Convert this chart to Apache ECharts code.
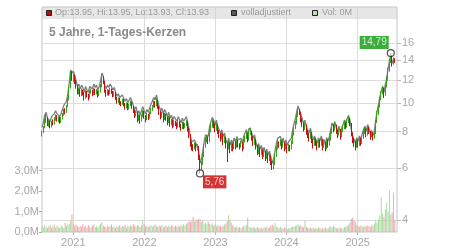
<!DOCTYPE html>
<html><head><meta charset="utf-8">
<script src="https://cdn.jsdelivr.net/npm/echarts@6/dist/echarts.min.js"></script>
<style>html,body{margin:0;padding:0;background:#fff}#c{width:450px;height:250px}</style>
</head><body><div id="c"></div>
<script>
// ---- data (weekly candles) ----
const startDate = [2020, 6, 24];   // first candle (year, monthIndex, day)
const stepDays = 7;
const opens = [
7.75,7.95,8.25,8.70,8.85,8.45,8.60,8.35,8.65,8.50,
8.75,9.00,8.75,8.95,8.60,8.85,9.10,9.45,9.30,9.75,
10.30,11.30,12.50,12.00,12.30,11.90,11.40,10.85,11.10,10.70,
11.00,10.80,10.45,10.90,10.60,10.40,10.85,11.00,10.70,11.10,
10.80,11.00,10.60,10.90,11.40,12.10,11.80,11.00,10.70,11.00,
10.80,11.10,10.90,10.60,10.80,10.40,10.10,10.30,10.00,9.90,
10.20,9.90,9.70,9.90,9.60,9.80,10.00,9.70,9.40,9.10,
9.30,8.80,9.00,8.70,9.00,9.30,9.00,8.80,9.10,8.90,
9.20,9.50,9.70,10.00,9.80,10.20,9.70,9.30,9.00,9.20,
8.80,9.10,8.90,8.60,8.90,8.50,8.70,8.40,8.60,8.50,
8.30,8.60,8.40,8.20,8.50,8.30,8.40,8.60,8.20,7.80,
7.30,7.10,7.00,7.20,7.00,7.10,6.60,6.00,6.20,6.60,
7.10,7.50,7.60,7.40,8.00,8.30,8.60,8.40,8.10,8.40,
8.00,7.80,7.60,7.80,7.40,7.60,7.20,7.00,7.30,6.90,
7.20,7.00,7.30,7.10,7.40,7.20,7.10,7.30,7.00,7.40,
7.60,7.80,7.50,7.90,8.00,7.60,7.30,7.50,7.10,6.80,
7.00,6.70,6.90,6.60,6.80,6.50,6.70,6.40,6.60,6.30,
6.00,6.20,6.60,7.00,7.30,7.20,7.40,7.10,7.30,7.00,
7.20,6.90,7.10,7.00,7.30,7.80,8.20,8.50,9.00,9.40,
9.30,8.80,8.50,8.20,8.40,8.00,7.80,7.60,7.90,7.50,
7.20,7.50,7.30,7.10,7.40,7.20,7.50,7.10,7.30,7.00,
7.40,7.20,7.50,7.90,8.30,8.10,8.40,8.00,7.80,8.10,
7.70,8.00,8.20,8.50,8.30,8.60,8.80,8.50,7.90,7.50,
7.30,7.10,7.40,7.20,7.50,7.30,7.60,7.90,8.10,7.80,
8.20,8.00,7.70,7.90,7.60,7.90,8.60,9.20,9.70,10.30,
10.80,11.20,10.70,11.40,12.00,12.90,13.80,14.50,13.60,14.05];
const closes = [
7.90,8.20,8.70,8.90,8.50,8.60,8.30,8.60,8.50,8.80,
9.00,8.80,8.90,8.60,8.80,9.10,9.40,9.30,9.70,10.30,
11.20,12.40,12.10,12.30,11.90,11.40,10.90,11.10,10.70,11.00,
10.80,10.40,10.90,10.60,10.40,10.90,11.00,10.70,11.10,10.80,
11.00,10.60,10.90,11.40,12.10,11.80,11.00,10.70,11.00,10.80,
11.10,10.90,10.60,10.80,10.40,10.10,10.30,10.00,9.90,10.20,
9.90,9.70,9.90,9.60,9.80,10.00,9.70,9.40,9.10,9.30,
8.80,9.00,8.70,9.00,9.30,9.00,8.80,9.10,8.90,9.20,
9.50,9.70,10.00,9.80,10.20,9.70,9.30,9.00,9.20,8.80,
9.10,8.90,8.60,8.90,8.50,8.70,8.40,8.60,8.50,8.30,
8.60,8.40,8.20,8.50,8.30,8.40,8.60,8.20,7.80,7.30,
7.10,7.00,7.20,7.00,7.10,6.60,6.00,6.20,6.60,7.10,
7.50,7.60,7.40,8.00,8.30,8.60,8.40,8.10,8.40,8.00,
7.80,7.60,7.80,7.40,7.60,7.20,7.00,7.30,6.90,7.20,
7.00,7.30,7.10,7.40,7.20,7.10,7.30,7.00,7.40,7.60,
7.80,7.50,7.90,8.00,7.60,7.30,7.50,7.10,6.80,7.00,
6.70,6.90,6.60,6.80,6.50,6.70,6.40,6.60,6.30,6.00,
6.20,6.60,7.00,7.30,7.20,7.40,7.10,7.30,7.00,7.20,
6.90,7.10,7.00,7.30,7.80,8.20,8.50,9.00,9.40,9.30,
8.80,8.50,8.20,8.40,8.00,7.80,7.60,7.90,7.50,7.20,
7.50,7.30,7.10,7.40,7.20,7.50,7.10,7.30,7.00,7.40,
7.20,7.50,7.90,8.30,8.10,8.40,8.00,7.80,8.10,7.70,
8.00,8.20,8.50,8.30,8.60,8.80,8.50,7.90,7.50,7.30,
7.10,7.40,7.20,7.50,7.30,7.60,7.90,8.10,7.80,8.20,
8.00,7.70,7.90,7.60,7.90,8.60,9.20,9.70,10.30,10.80,
11.20,10.70,11.40,12.00,12.90,13.80,14.50,13.60,14.00,13.93];
const highs = [
8.05,8.35,8.90,9.15,8.95,8.75,8.70,8.70,8.80,8.95,
9.15,9.10,9.00,9.00,8.95,9.25,9.55,9.60,9.85,10.45,
11.40,12.80,12.85,12.60,12.45,12.00,11.50,11.30,11.20,11.20,
11.10,10.90,11.05,11.00,10.75,11.05,11.20,11.10,11.25,11.20,
11.15,11.05,11.05,11.60,12.40,12.30,11.90,11.10,11.15,11.10,
11.25,11.20,11.00,10.95,10.90,10.50,10.45,10.40,10.15,10.35,
10.30,10.00,10.05,10.00,9.95,10.20,10.10,9.80,9.50,9.45,
9.35,9.15,9.10,9.15,9.45,9.40,9.10,9.25,9.20,9.35,
9.65,9.85,10.20,10.15,10.40,10.25,9.80,9.40,9.35,9.25,
9.25,9.20,9.00,9.05,8.95,8.85,8.80,8.75,8.70,8.60,
8.75,8.70,8.50,8.65,8.60,8.55,8.75,8.65,8.25,7.85,
7.40,7.25,7.35,7.30,7.25,7.15,6.65,6.35,6.75,7.25,
7.65,7.80,7.70,8.15,8.50,8.80,8.70,8.50,8.55,8.45,
8.10,7.90,7.95,7.85,7.75,7.65,7.30,7.45,7.35,7.35,
7.30,7.45,7.40,7.55,7.50,7.30,7.45,7.35,7.55,7.75,
8.00,7.90,8.05,8.25,8.05,7.70,7.65,7.55,7.20,7.15,
7.05,7.05,6.95,6.95,6.85,6.85,6.75,6.75,6.65,6.35,
6.35,6.75,7.15,7.50,7.40,7.55,7.45,7.45,7.35,7.35,
7.25,7.25,7.20,7.45,7.95,8.35,8.70,9.20,9.60,9.55,
9.35,8.90,8.60,8.55,8.45,8.10,7.90,8.05,7.95,7.55,
7.65,7.60,7.40,7.55,7.50,7.65,7.55,7.45,7.35,7.55,
7.50,7.65,8.05,8.50,8.45,8.60,8.45,8.10,8.25,8.15,
8.15,8.40,8.70,8.60,8.80,9.10,8.90,8.55,7.95,7.60,
7.40,7.55,7.50,7.65,7.60,7.75,8.05,8.30,8.20,8.35,
8.30,8.05,8.05,7.95,8.05,8.75,9.40,9.90,10.50,11.00,
11.45,11.30,11.60,12.30,13.20,14.10,14.79,14.60,14.30,14.20];
const lows = [
7.70,7.90,8.20,8.55,8.35,8.30,8.20,8.25,8.40,8.45,
8.70,8.65,8.60,8.50,8.55,8.80,9.05,9.15,9.25,9.70,
10.20,11.20,11.90,11.80,11.60,11.20,10.70,10.70,10.50,10.55,
10.60,10.20,10.35,10.45,10.20,10.35,10.75,10.55,10.65,10.65,
10.70,10.45,10.55,10.85,11.30,11.60,10.85,10.50,10.60,10.60,
10.70,10.75,10.45,10.50,10.25,9.95,10.00,9.85,9.75,9.85,
9.75,9.50,9.60,9.45,9.50,9.75,9.55,9.25,8.90,9.00,
8.60,8.70,8.50,8.65,8.95,8.85,8.60,8.75,8.75,8.85,
9.15,9.40,9.65,9.65,9.75,9.55,9.10,8.80,8.90,8.60,
8.75,8.70,8.40,8.55,8.30,8.40,8.20,8.30,8.35,8.15,
8.25,8.25,8.05,8.15,8.15,8.20,8.35,8.00,7.60,7.10,
6.90,6.85,6.95,6.85,6.90,6.40,5.76,5.90,6.15,6.55,
7.05,7.35,7.25,7.35,7.95,8.25,8.20,7.95,8.05,7.85,
7.60,7.40,7.50,7.20,7.30,7.00,6.30,6.95,6.75,6.85,
6.85,6.95,6.95,7.05,7.05,6.95,7.05,6.85,6.95,7.35,
7.55,7.35,7.45,7.80,7.45,7.15,7.20,6.95,6.65,6.70,
6.55,6.65,6.45,6.55,6.35,6.45,6.25,6.35,6.15,5.92,
5.95,6.15,6.55,6.95,7.05,7.15,6.95,7.05,6.85,6.95,
6.75,6.85,6.85,6.95,7.25,7.75,8.15,8.45,8.95,9.10,
8.60,8.30,8.00,8.10,7.80,7.60,7.40,7.55,7.30,7.00,
7.15,7.15,6.90,7.05,7.05,7.15,6.90,7.05,6.85,6.95,
7.05,7.15,7.45,7.85,7.95,8.05,7.85,7.60,7.75,7.50,
7.65,7.95,8.15,8.15,8.25,8.55,8.35,7.70,7.30,7.10,
6.90,7.05,7.05,7.15,7.15,7.25,7.55,7.85,7.65,7.75,
7.85,7.50,7.65,7.45,7.55,7.85,8.55,9.10,9.65,10.20,
10.70,10.40,10.60,11.30,11.90,12.80,13.70,13.30,13.50,13.70];
const adjusted = [
8.26,8.57,9.09,9.30,8.88,8.99,8.67,8.99,8.88,9.20,
9.41,9.20,9.30,8.99,9.20,9.51,9.82,9.72,10.14,10.76,
11.70,12.96,12.64,12.85,12.44,11.91,11.39,11.60,11.18,11.50,
11.29,10.87,11.39,11.08,10.87,11.39,11.50,11.18,11.60,11.29,
11.50,11.08,11.39,11.91,12.64,12.33,11.50,11.18,11.50,11.29,
11.60,11.39,11.08,11.29,10.87,10.55,10.76,10.45,10.35,10.66,
10.35,10.14,10.35,10.03,10.24,10.45,10.14,9.82,9.51,9.72,
9.20,9.41,9.09,9.41,9.72,9.41,9.20,9.51,9.30,9.61,
9.93,10.14,10.45,10.24,10.66,10.14,9.72,9.41,9.61,9.20,
9.51,9.30,8.99,9.30,8.88,9.09,8.78,8.99,8.88,8.67,
8.99,8.78,8.57,8.88,8.67,8.78,8.99,8.57,8.15,7.63,
7.38,7.28,7.49,7.28,7.38,6.86,6.24,6.45,6.86,7.38,
7.80,7.90,7.70,8.32,8.63,8.94,8.74,8.42,8.74,8.32,
8.11,7.90,8.11,7.70,7.90,7.49,7.28,7.59,7.18,7.49,
7.28,7.59,7.38,7.70,7.49,7.38,7.59,7.28,7.70,7.90,
8.11,7.80,8.22,8.32,7.90,7.59,7.80,7.38,7.07,7.28,
6.97,7.18,6.86,7.07,6.76,6.97,6.66,6.86,6.55,6.24,
6.45,6.86,7.28,7.59,7.49,7.70,7.38,7.59,7.28,7.49,
7.18,7.38,7.28,7.59,8.11,8.53,8.84,9.36,9.78,9.67,
9.15,8.84,8.53,8.74,8.32,8.11,7.90,8.22,7.80,7.49,
7.73,7.52,7.31,7.62,7.42,7.73,7.31,7.52,7.21,7.62,
7.42,7.73,8.14,8.55,8.34,8.65,8.24,8.03,8.34,7.93,
8.24,8.45,8.76,8.55,8.86,9.06,8.76,8.14,7.73,7.52,
7.31,7.62,7.42,7.73,7.52,7.83,8.14,8.34,8.03,8.45,
8.24,7.85,8.06,7.75,8.06,8.77,9.38,9.89,10.48,10.98,
11.38,10.86,11.55,12.14,13.03,13.90,14.58,13.65,14.03,13.93];
const volumesM = [
0.30,0.22,0.35,0.25,0.18,0.28,0.32,0.20,0.26,0.38,0.22,0.30,0.24,0.19,0.33,0.27,0.21,0.45,0.29,0.36,
0.40,0.55,0.85,0.42,0.30,0.35,0.28,0.22,0.31,0.26,0.38,0.24,0.29,0.20,0.34,0.27,0.23,0.30,0.36,0.25,
0.28,0.21,0.33,0.40,0.48,0.30,0.27,0.22,0.32,0.25,0.29,0.36,0.24,0.28,0.20,0.31,0.26,0.34,0.23,0.29,
0.27,0.35,0.22,0.30,0.25,0.33,0.28,0.38,0.31,0.26,0.34,0.29,0.24,0.32,0.58,0.36,0.27,0.30,0.23,0.28,
0.33,0.26,0.31,0.37,0.29,0.24,0.30,0.27,0.35,0.22,0.28,0.32,0.25,0.30,0.26,0.34,0.29,0.23,0.31,0.27,
0.30,0.25,0.33,0.28,0.36,0.31,0.40,0.45,0.52,0.48,0.55,0.75,0.50,0.62,0.58,0.65,0.60,0.48,0.55,0.42,
0.45,0.38,0.50,0.40,0.35,0.42,0.30,0.36,0.28,0.33,0.27,0.32,0.25,0.30,0.36,0.42,0.55,0.83,0.60,0.45,
0.32,0.26,0.22,0.28,0.20,0.25,0.18,0.23,0.30,0.27,0.35,0.70,0.26,0.22,0.19,0.25,0.21,0.17,0.24,0.20,
0.18,0.22,0.16,0.25,0.20,0.27,0.19,0.23,0.30,0.35,0.28,0.44,0.26,0.22,0.18,0.24,0.20,0.17,0.22,0.19,
0.15,0.20,0.17,0.23,0.28,0.25,0.30,0.33,0.36,0.28,0.32,0.26,0.22,0.58,0.25,0.20,0.18,0.23,0.17,0.21,
0.15,0.19,0.16,0.22,0.18,0.14,0.20,0.17,0.23,0.15,0.19,0.25,0.28,0.22,0.30,0.24,0.19,0.16,0.21,0.18,
0.20,0.17,0.23,0.26,0.30,0.35,0.45,0.65,0.70,0.55,0.48,0.35,0.30,0.26,0.32,0.28,0.24,0.30,0.27,0.33,
0.29,0.25,0.35,0.30,0.40,0.58,0.45,0.62,0.80,1.70,0.90,0.75,1.10,1.40,1.00,2.05,0.85,0.95,1.90,0.60];
const axisStart = [2020, 6, 24];
const axisEnd = [2025, 6, 22];
const yearTicks = [2021, 2022, 2023, 2024, 2025];
const priceTicks = [4, 6, 8, 10, 12, 14, 16];
const priceRange = [3.641, 21.22];
const volumeRangeM = [0, 3];
const lastDay = { op: '13.95', hi: '13.95', lo: '13.93', cl: '13.93' };
const titleText = '5 Jahre, 1-Tages-Kerzen';
const maxLabel = '14,79';
const minLabel = '5,76';

// ---- build ----
const ts = a => new Date(a[0], a[1], a[2]).getTime();
const dates = opens.map((_, i) => new Date(startDate[0], startDate[1], startDate[2] + i * stepDays).getTime());
const yearTs = yearTicks.map(y => new Date(y, 0, 1).getTime());
let maxIdx = 0, minIdx = 0;
highs.forEach((v, i) => { if (v > highs[maxIdx]) maxIdx = i; });
lows.forEach((v, i) => { if (v < lows[minIdx]) minIdx = i; });

const UP = '#3a9f1a', DOWN = '#c40f0f';
const VUP = '#a9dba0', VDOWN = '#f2a5ad';
const candleData = dates.map((d, i) => [d, opens[i], closes[i], lows[i], highs[i]]);
const adjData = dates.map((d, i) => [d, adjusted[i]]);
const volData = dates.map((d, i) => ({ value: [d, volumesM[i]], itemStyle: { color: closes[i] >= opens[i] ? VUP : VDOWN } }));

const FF = 'Liberation Sans, Arial, sans-serif';
const GL = 42, GR = 53, GT = 7, GB = 18;
const chart = echarts.init(document.getElementById('c'), null, { renderer: 'canvas' });
const txt = { fill: '#9a9a9a', fontSize: 9, fontFamily: FF };
chart.setOption({
  animation: false,
  backgroundColor: '#fff',
  title: { text: titleText, left: 44, top: 22, textStyle: { fontSize: 12, fontWeight: 'bold', color: '#8a8a8a', fontFamily: FF } },
  grid: [
    { left: GL, right: GR, top: GT, bottom: GB, show: true, borderColor: '#c4c4c4', borderWidth: 1, backgroundColor: 'transparent' },
    { left: GL, right: GR, top: 170.5, bottom: GB }
  ],
  xAxis: [
    { type: 'value', gridIndex: 0, min: ts(axisStart), max: ts(axisEnd),
      axisLine: { show: false },
      axisTick: { show: true, customValues: yearTs, length: 3, lineStyle: { color: '#bbb' } },
      axisLabel: { customValues: yearTs, formatter: v => String(new Date(v).getFullYear()), color: '#a8a8a8', fontSize: 11, margin: 5, fontFamily: FF },
      splitLine: { show: true, lineStyle: { color: '#dcdcdc', width: 1 } } },
    { type: 'value', gridIndex: 1, min: ts(axisStart), max: ts(axisEnd), show: false, splitLine: { show: false } }
  ],
  yAxis: [
    { type: 'log', gridIndex: 0, position: 'right', logBase: 10, min: priceRange[0], max: priceRange[1],
      axisLine: { show: false },
      axisTick: { show: true, customValues: priceTicks, length: 4, lineStyle: { color: '#bbb' } },
      axisLabel: { customValues: priceTicks, color: '#a8a8a8', fontSize: 11, margin: 5, fontFamily: FF },
      splitLine: { show: true, lineStyle: { color: '#dcdcdc', width: 1 } } },
    { type: 'value', gridIndex: 1, position: 'left', min: volumeRangeM[0], max: volumeRangeM[1], interval: 1,
      axisLine: { show: false },
      axisTick: { show: true, length: 3, lineStyle: { color: '#aaa' } },
      axisLabel: { formatter: v => v.toFixed(1).replace('.', ',') + 'M', color: '#a8a8a8', fontSize: 11, margin: 3, fontFamily: FF },
      splitLine: { show: false } }
  ],
  series: [
    { type: 'bar', name: 'Vol', xAxisIndex: 1, yAxisIndex: 1, data: volData, barWidth: 1, z: 1 },
    { type: 'line', name: 'volladjustiert', xAxisIndex: 0, yAxisIndex: 0, data: adjData, showSymbol: false, symbol: 'none',
      lineStyle: { color: '#7d7d7d', width: 1.3 }, z: 2 },
    { type: 'candlestick', name: 'OHLC', xAxisIndex: 0, yAxisIndex: 0, data: candleData, barWidth: 1,
      itemStyle: { color: UP, color0: DOWN, borderColor: UP, borderColor0: DOWN, borderWidth: 1 }, z: 3 },
    { type: 'scatter', xAxisIndex: 0, yAxisIndex: 0, z: 5, symbol: 'circle', symbolSize: 7,
      itemStyle: { color: 'rgba(255,255,255,0.7)', borderColor: '#222', borderWidth: 1.2 },
      data: [
        { value: [dates[maxIdx], highs[maxIdx]], label: { show: true, formatter: maxLabel, position: [-27, -13], align: 'left', verticalAlign: 'top',
          backgroundColor: '#0a9a0a', color: '#fff', fontSize: 10, lineHeight: 11, padding: [1, 2, 1, 2], fontFamily: FF } },
        { value: [dates[minIdx], lows[minIdx]], label: { show: true, formatter: minLabel, position: [7, 6], align: 'left', verticalAlign: 'top',
          backgroundColor: '#cc0000', color: '#fff', fontSize: 10, lineHeight: 11, padding: [1, 2, 1, 2], fontFamily: FF } }
      ] }
  ],
  graphic: [
    { type: 'rect', shape: { x: GL, y: GT, width: 450 - GL - GR, height: 12 }, style: { fill: 'rgba(205,205,205,0.5)' }, z: 10 },
    { type: 'rect', shape: { x: 46.5, y: 10.5, width: 5, height: 5 }, style: { fill: '#b01010', stroke: '#222', lineWidth: 1 }, z: 11 },
    { type: 'text', x: 55, y: 13, style: Object.assign({ text: 'Op:' + lastDay.op + ', Hi:' + lastDay.hi + ', Lo:' + lastDay.lo + ', Cl:' + lastDay.cl, verticalAlign: 'middle' }, txt), z: 11 },
    { type: 'rect', shape: { x: 231.5, y: 10.5, width: 5, height: 5 }, style: { fill: '#5a5a5a', stroke: '#222', lineWidth: 1 }, z: 11 },
    { type: 'text', x: 241, y: 13, style: Object.assign({ text: 'volladjustiert', verticalAlign: 'middle' }, txt), z: 11 },
    { type: 'rect', shape: { x: 312.5, y: 10.5, width: 5, height: 5 }, style: { fill: '#b8e3b0', stroke: '#222', lineWidth: 1 }, z: 11 },
    { type: 'text', x: 322, y: 13, style: Object.assign({ text: 'Vol: 0M', verticalAlign: 'middle' }, txt), z: 11 }
  ]
});
</script></body></html>
